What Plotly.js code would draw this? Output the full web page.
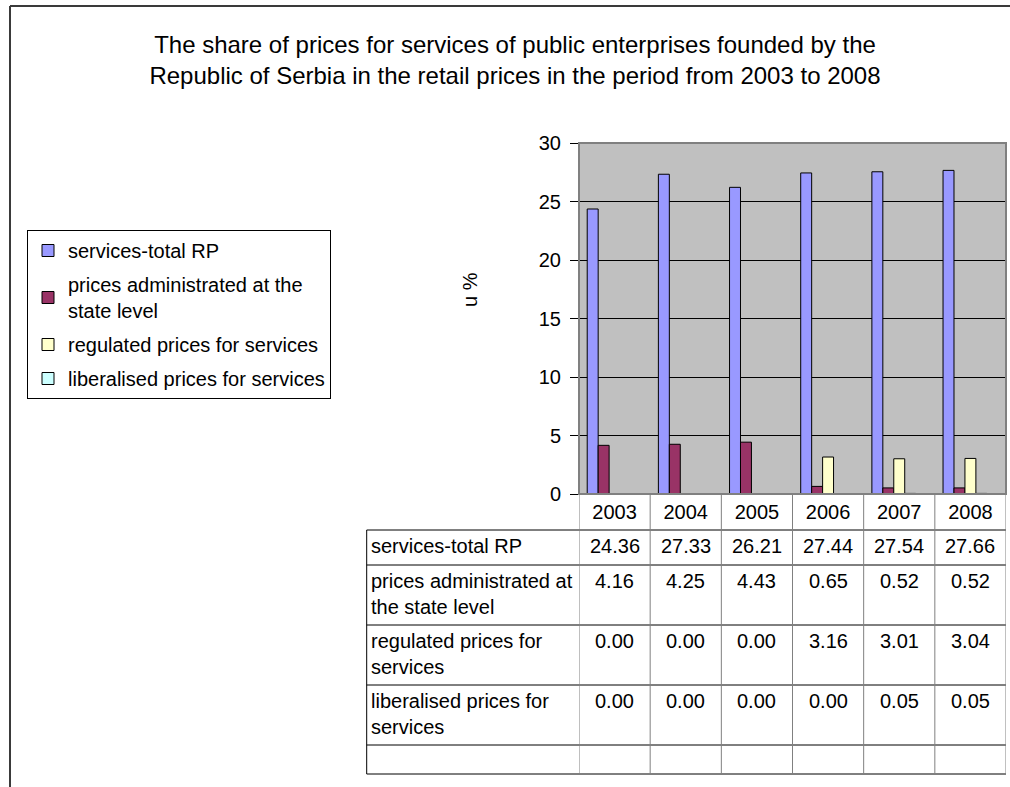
<!DOCTYPE html>
<html>
<head>
<meta charset="utf-8">
<script src="https://cdn.plot.ly/plotly-3.0.1.min.js"></script>
<style>html,body{margin:0;padding:0;background:#fff;}#chart{width:1010px;height:787px;}</style>
</head>
<body>
<div id="chart"></div>
<script>
// ---- data ----
var years = ['2003', '2004', '2005', '2006', '2007', '2008'];
var servicesTotal = [24.36, 27.33, 26.21, 27.44, 27.54, 27.66];
var administrated = [4.16, 4.25, 4.43, 0.65, 0.52, 0.52];
var regulated = [0.00, 0.00, 0.00, 3.16, 3.01, 3.04];
var liberalised = [0.00, 0.00, 0.00, 0.00, 0.05, 0.05];
var emptySeries = [0, 0, 0, 0, 0, 0];
var legendNames = ['services-total RP', 'prices administrated at the<br>state level', 'regulated prices for services', 'liberalised prices for services'];
var rowLabels = ['services-total RP', 'prices administrated at<br>the state level', 'regulated prices for<br>services', 'liberalised prices for<br>services'];
var seriesColors = ['#9999FF', '#993366', '#FFFFCC', '#CCFFFF'];
var titleText = 'The share of prices for services of public enterprises founded by the<br>Republic of Serbia in the retail prices in the period from 2003 to 2008';
var yTitle = 'u %';

// ---- geometry (pixels) ----
var W = 1010, H = 787;
var plotL = 579, plotR = 1006, plotT = 143, plotB = 494;
var pw = plotR - plotL, ph = plotB - plotT;
function px(X) { return (X - plotL) / pw; }
function py(Y) { return (plotB - Y) / ph; }

var seriesValues = [servicesTotal, administrated, regulated, liberalised];
var FONT = 'Arial, "Liberation Sans", sans-serif';

var traces = seriesValues.map(function (vals, i) {
  return {
    type: 'bar', x: years, y: vals, name: legendNames[i],
    marker: { color: seriesColors[i], line: { color: '#000', width: 1 } },
    legendgroup: 'g' + i
  };
});
traces.push({ type: 'bar', x: years, y: emptySeries, name: '', showlegend: false,
  marker: { color: 'rgba(0,0,0,0)', line: { width: 0 } }, hoverinfo: 'skip' });

// ---- table ----
var rowLines = [530, 565, 625, 685, 745, 774];
var tableLeft = 366.7;
var shapes = [];
rowLines.forEach(function (Y) {
  shapes.push({ type: 'line', xref: 'paper', yref: 'paper', x0: px(tableLeft), x1: 1, y0: py(Y), y1: py(Y),
    line: { color: '#000', width: 1 } });
});
shapes.push({ type: 'line', xref: 'paper', yref: 'paper', x0: px(tableLeft), x1: px(tableLeft), y0: py(530), y1: py(774),
  line: { color: '#000', width: 1 } });
for (var k = 0; k <= years.length; k++) {
  shapes.push({ type: 'line', xref: 'x', yref: 'paper', x0: k - 0.5, x1: k - 0.5, y0: 0, y1: py(774),
    line: { color: '#808080', width: 1 } });
}
// plot area border
shapes.push({ type: 'rect', xref: 'paper', yref: 'paper', x0: 0, x1: 1, y0: 0, y1: 1,
  line: { color: '#808080', width: 2 }, layer: 'above' });
// outer chart frame (left and top)
shapes.push({ type: 'line', xref: 'paper', yref: 'paper', x0: px(10), x1: px(10), y0: py(6), y1: py(790),
  line: { color: '#3a3a3a', width: 2 } });
shapes.push({ type: 'line', xref: 'paper', yref: 'paper', x0: px(10), x1: px(1012), y0: py(6), y1: py(6),
  line: { color: '#3a3a3a', width: 2 } });

var annotations = [];
var rowTops = [530, 565, 625, 685];
rowLabels.forEach(function (lab, r) {
  annotations.push({ xref: 'paper', yref: 'paper', x: px(370), y: py(rowTops[r] + 4), xanchor: 'left', yanchor: 'top',
    text: lab, align: 'left', showarrow: false, borderpad: 0, font: { family: FONT, size: 20, color: '#000' } });
  seriesValues[r].forEach(function (v, c) {
    annotations.push({ xref: 'x', yref: 'paper', x: c, y: py(rowTops[r] + 4), xanchor: 'center', yanchor: 'top',
      text: v.toFixed(2), showarrow: false, borderpad: 0, font: { family: FONT, size: 20, color: '#000' } });
  });
});
annotations.push({ xref: 'paper', yref: 'paper', x: px(470), y: py(290), xanchor: 'center', yanchor: 'middle',
  text: yTitle, textangle: -90, showarrow: false, font: { family: FONT, size: 20, color: '#000' } });

var layout = {
  width: W, height: H,
  margin: { l: plotL, r: W - plotR, t: plotT, b: H - plotB, pad: 0 },
  paper_bgcolor: '#fff', plot_bgcolor: '#C0C0C0',
  font: { family: FONT, size: 20, color: '#000' },
  title: { text: titleText, x: 515 / W, xanchor: 'center', xref: 'container', yref: 'container',
    y: 1 - 53 / H, yanchor: 'middle', font: { family: FONT, size: 24, color: '#000' } },
  barmode: 'group', bargap: 1.5 / 6.5, bargroupgap: 0,
  xaxis: { type: 'category', range: [-0.5, years.length - 0.5], showgrid: false, ticks: '', showline: true,
    linecolor: '#000', linewidth: 1, tickfont: { family: FONT, size: 20, color: '#000' },
    fixedrange: true, zeroline: false },
  yaxis: { range: [0, 30], dtick: 5, tick0: 0, showgrid: true, gridcolor: '#000', gridwidth: 1,
    ticks: 'outside', ticklen: 8, tickcolor: '#000', showline: true, linecolor: '#808080', linewidth: 1,
    ticklabelstandoff: 5,
    zeroline: false, tickfont: { family: FONT, size: 20, color: '#000' }, fixedrange: true },
  showlegend: true,
  legend: { x: px(27), y: py(230), xanchor: 'left', yanchor: 'top', xref: 'paper', yref: 'paper',
    bordercolor: '#000', borderwidth: 1, bgcolor: '#fff', font: { family: FONT, size: 20, color: '#000' },
    traceorder: 'grouped', tracegroupgap: 5, itemclick: false, itemdoubleclick: false },
  shapes: shapes,
  annotations: annotations
};

Plotly.newPlot('chart', traces, layout, { displayModeBar: false, staticPlot: true });
</script>
</body>
</html>
